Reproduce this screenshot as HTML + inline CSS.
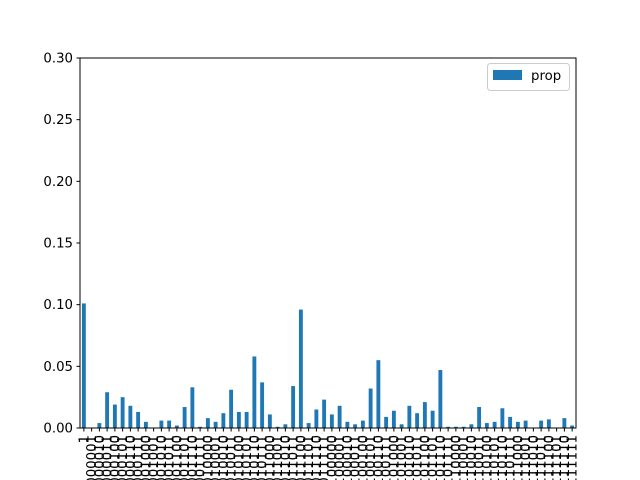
<!DOCTYPE html>
<html><head><meta charset="utf-8"><style>
body{margin:0;background:#fff}
svg{display:block;font-family:"DejaVu Sans","Liberation Sans",sans-serif}
</style></head><body>
<svg id="chart" width="640" height="480" viewBox="0 0 640 480">
<rect x="0" y="0" width="640" height="480" fill="#fff"/>
<g id="bars"></g>
<g id="yaxis"></g>
<g id="xaxis"></g>
<rect x="80" y="58" width="496" height="370" fill="none" stroke="#000" stroke-width="1"/>
<g>
<rect x="487.5" y="63.5" width="82" height="27" rx="3" fill="#fff" stroke="#ccc"/>
<rect x="493" y="70" width="29" height="10" fill="#1f77b4"/>
<text x="531" y="80" font-size="13.3">prop</text>
</g>
</svg>
<script>
const values = [0.101,0,0.004,0.029,0.019,0.025,0.018,0.013,0.005,0,0.006,0.006,0.002,0.017,0.033,0.001,0.008,0.005,0.012,0.031,0.013,0.013,0.058,0.037,0.011,0.001,0.003,0.034,0.096,0.004,0.015,0.023,0.011,0.018,0.005,0.003,0.006,0.032,0.055,0.009,0.014,0.003,0.018,0.012,0.021,0.014,0.047,0.001,0.001,0.001,0.003,0.017,0.004,0.005,0.016,0.009,0.005,0.006,0,0.006,0.007,0,0.008,0.002];
const categories = values.map((v,i)=> i===0 ? "1" : "10" + (i).toString(2).padStart(6,"0"));
const yTicks = [0,0.05,0.10,0.15,0.20,0.25,0.30];
const yTickLabels = ["0.00","0.05","0.10","0.15","0.20","0.25","0.30"];
const NS="http://www.w3.org/2000/svg";
const X0=80,X1=576,Y0=428,Y1=58,YMAX=0.3;
const band=(X1-X0)/categories.length;
function xc(i){return X0+band*(i+0.5);}
function y(v){return Y0-(v/YMAX)*(Y0-Y1);}
const bars=document.getElementById('bars');
values.forEach((v,i)=>{
  const r=document.createElementNS(NS,'rect');
  r.setAttribute('x',xc(i)-band/4);
  r.setAttribute('width',band/2);
  r.setAttribute('y',y(v));
  r.setAttribute('height',Y0-y(v));
  r.setAttribute('fill','#1f77b4');
  
  
  bars.appendChild(r);
});
const ya=document.getElementById('yaxis');
yTicks.forEach((t,i)=>{
  const l=document.createElementNS(NS,'line');
  l.setAttribute('x1',X0-3.5);l.setAttribute('x2',X0);
  l.setAttribute('y1',y(t));l.setAttribute('y2',y(t));
  l.setAttribute('stroke','#000');
  
  
  ya.appendChild(l);
  const tx=document.createElementNS(NS,'text');
  tx.setAttribute('x',X0-7);tx.setAttribute('y',y(t)+4.5);
  tx.setAttribute('text-anchor','end');tx.setAttribute('font-size','13.3');
  tx.textContent=yTickLabels[i];
  
  
  ya.appendChild(tx);
});
const xa=document.getElementById('xaxis');
categories.forEach((c,i)=>{
  const l=document.createElementNS(NS,'line');
  l.setAttribute('x1',xc(i));l.setAttribute('x2',xc(i));
  l.setAttribute('y1',Y0);l.setAttribute('y2',Y0+3.5);
  l.setAttribute('stroke','#000');
  
  
  xa.appendChild(l);
  const tx=document.createElementNS(NS,'text');
  tx.setAttribute('transform','translate('+(xc(i)+4.5)+','+(Y0+7)+') rotate(-90)');
  tx.setAttribute('text-anchor','end');tx.setAttribute('font-size','13.3');
  tx.textContent=c;
  
  
  xa.appendChild(tx);
});
</script>
</body></html>
